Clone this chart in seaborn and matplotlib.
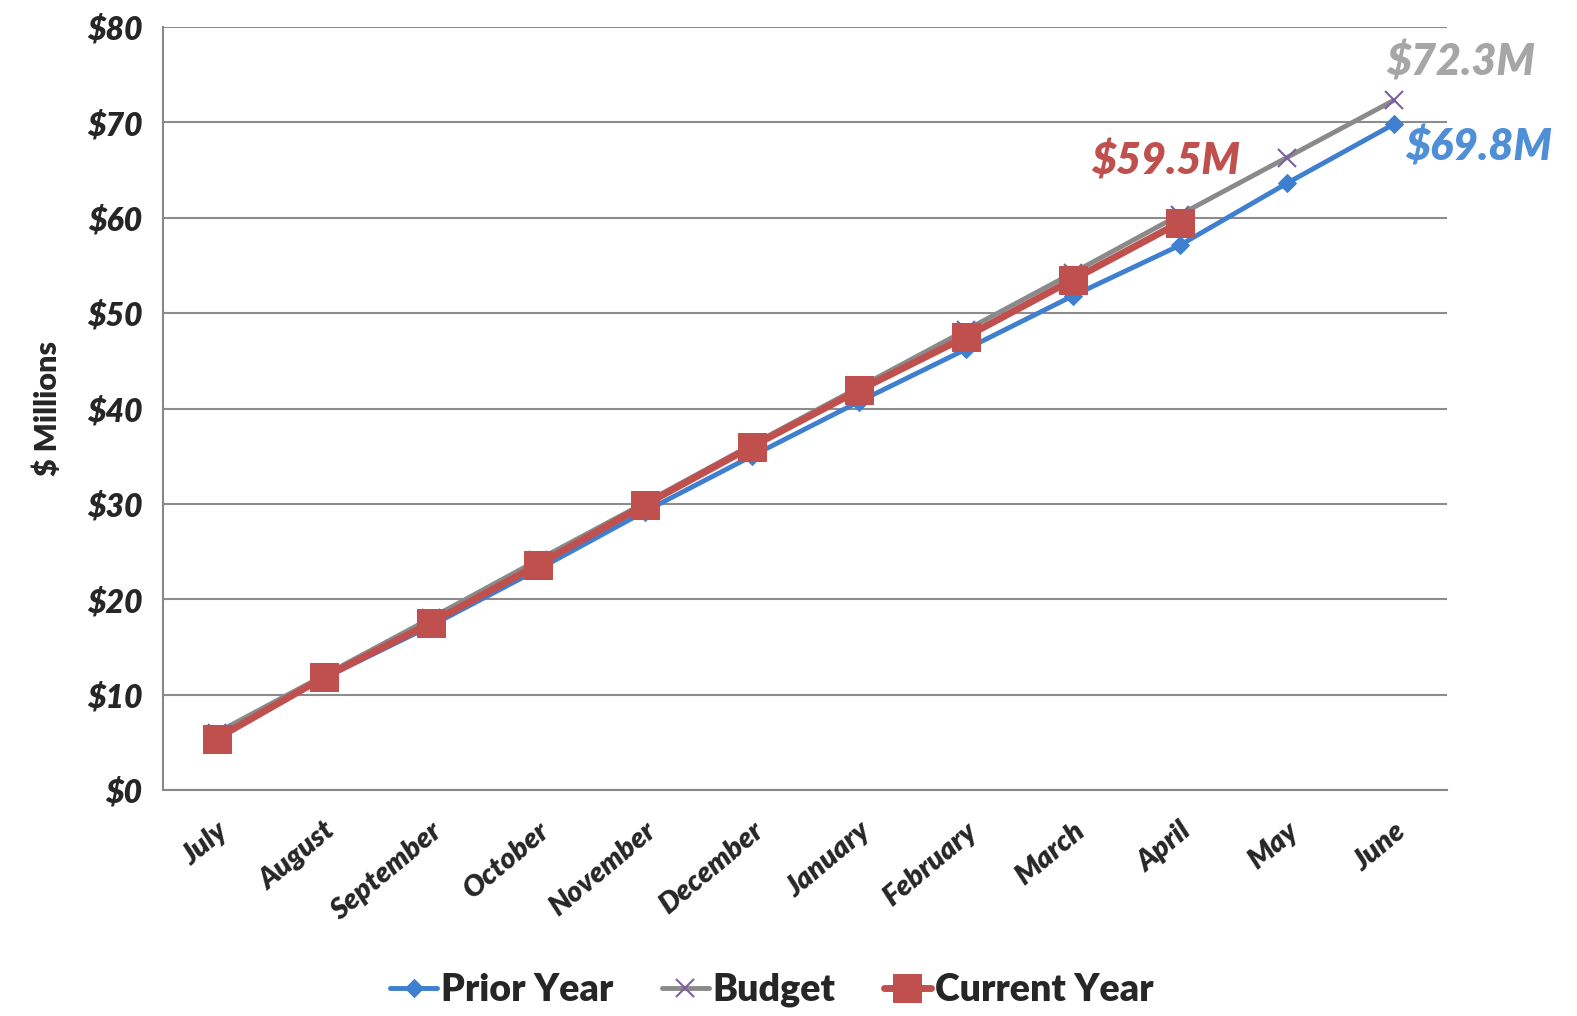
import numpy as np
import pandas as pd
import matplotlib
matplotlib.use("Agg")
import matplotlib.pyplot as plt
import seaborn as sns

months = ["July", "August", "September", "October", "November", "December",
          "January", "February", "March", "April", "May", "June"]
prior_year = [5.7, 11.7, 17.2, 23.1, 29.2, 35.0, 40.7, 46.2, 51.8, 57.1, 63.6, 69.8]
budget = [6.0, 12.0, 18.0, 24.1, 30.1, 36.2, 42.2, 48.2, 54.2, 60.3, 66.3, 72.3]
current_year = [5.4, 11.8, 17.5, 23.6, 29.9, 36.0, 41.9, 47.5, 53.5, 59.5]
y_ticks = [0, 10, 20, 30, 40, 50, 60, 70, 80]

sns.set_style("white")
plt.rcParams['font.family'] = ['Lato', 'DejaVu Sans']

fig = plt.figure(figsize=(15.77, 10.16), dpi=100)
ax = fig.add_axes([0.1034, 0.2224, 0.8142, 0.751])

blue = "#3f7fcf"
gray = "#8a8a8a"
red = "#c0504d"

x_all = np.arange(len(months))
sns.lineplot(x=x_all, y=prior_year, ax=ax, color=blue, lw=3.5, marker="D",
             markersize=9, markeredgecolor=blue, label="Prior Year")
sns.lineplot(x=x_all, y=budget, ax=ax, color=gray, lw=3.5, marker="x",
             markersize=13, markeredgecolor="#7e5fa0", markeredgewidth=1.5,
             label="Budget")
sns.lineplot(x=x_all[:len(current_year)], y=current_year, ax=ax, color=red,
             lw=5, marker="s", markersize=20, markeredgecolor=red,
             label="Current Year")

ax.set_xlim(-0.5, 11.5)
ax.set_ylim(0, 80)
ax.set_yticks(y_ticks)
ax.set_yticklabels(["\\$%d" % v for v in y_ticks], fontsize=23,
                   fontweight="heavy", style="italic")
ax.set_xticks(x_all)
ax.set_xticklabels(months, rotation=40, ha="right", rotation_mode="anchor",
                   fontsize=21, fontweight="heavy", style="italic")
ax.set_xticks(np.arange(-0.5, 12, 1), minor=True)
ax.tick_params(axis="x", which="major", length=0, pad=20)
ax.tick_params(axis="x", which="minor", length=9, color="#888888", width=1.5)
ax.tick_params(axis="y", length=9, color="#888888", width=1.5, pad=6)
ax.grid(axis="y", color="#8c8c8c", lw=1.5)
ax.set_axisbelow(True)
for s in ["top", "right"]:
    ax.spines[s].set_visible(False)
for s in ["left", "bottom"]:
    ax.spines[s].set_color("#888888")
    ax.spines[s].set_linewidth(1.5)

ax.set_ylabel("\\$ Millions", fontsize=22, fontweight="heavy", labelpad=18)

ax.text(11.63, 76.3, "\\$72.3M", color="#a6a6a6", fontsize=31,
        fontweight="heavy", style="italic", ha="center", va="center", clip_on=False)
ax.text(11.8, 67.4, "\\$69.8M", color="#4f8fd8", fontsize=31,
        fontweight="heavy", style="italic", ha="center", va="center", clip_on=False)
ax.text(8.87, 66.0, "\\$59.5M", color=red, fontsize=31,
        fontweight="heavy", style="italic", ha="center", va="center", clip_on=False)

leg = ax.legend(loc="center", bbox_to_anchor=(0.474, -0.262), ncol=3,
                frameon=False, handlelength=1.25, handletextpad=0.1,
                columnspacing=1.3, prop={"weight": "heavy", "size": 27})

fig.savefig("out.png", dpi=100)
